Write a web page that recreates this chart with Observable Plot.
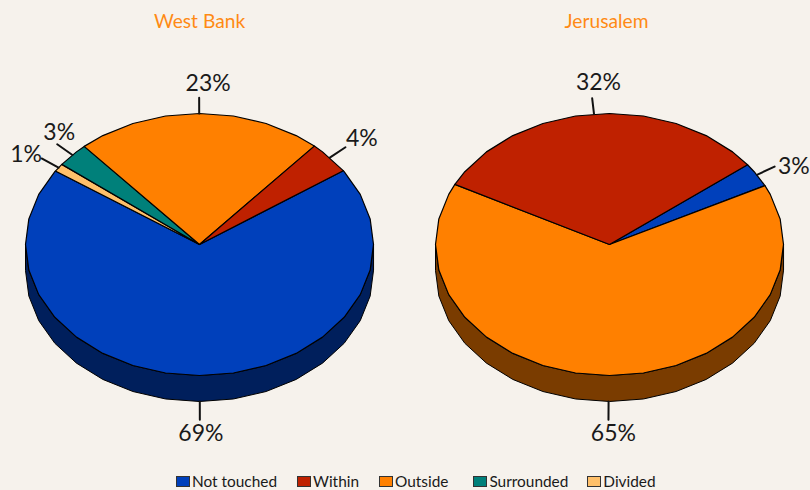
<!DOCTYPE html>
<html>
<head>
<meta charset="utf-8">
<script src="https://cdn.jsdelivr.net/npm/d3@7"></script>
<script src="https://cdn.jsdelivr.net/npm/@observablehq/plot@0.6"></script>
<style>
html,body{margin:0;padding:0;background:#f6f2ec;overflow:hidden;width:810px;height:490px}
#legend{position:absolute;left:176px;top:472px;height:18px;overflow:hidden;display:flex;gap:20px;font:15.4px/22px Lato,sans-serif;color:#1a1a1a;white-space:nowrap}
#legend span.i{display:flex;align-items:center;gap:2px}
#legend span.i:nth-child(4){margin-left:5px}
#legend span.i:nth-child(5){margin-left:-1px}
#legend i{display:inline-block;width:12px;height:9px;border:1.2px solid #333;margin-top:1px}
</style>
</head>
<body>
<div id="chart"></div>
<div id="legend"></div>
<script>
const categories = ["Not touched", "Within", "Outside", "Surrounded", "Divided"];
const westValues = [69, 4, 23, 3, 1];
const jerusalemValues = [3, 32, 65, 0, 0];
const pieTitles = ["West Bank", "Jerusalem"];
const topColors = ["#0040bb", "#bf2100", "#ff8000", "#00807a", "#ffc06a"];
const sideColors = ["#001f5c", "#6e1300", "#7a3c00", "#004744", "#8f6a3a"];
const clockwiseOrder = ["Not touched", "Divided", "Surrounded", "Outside", "Within"];
const startAngles = [55.7, 52.5];

const W = 810, H = 470;
const unitX = 174, unitY = 131;          // pixels per unit of pie radius
const cx0 = 199, cy0 = 244;              // centre of first pie, px
const pieGap = 410 / unitX;              // distance between pies, data units
const depth = 26 / unitY;                // rim depth, data units
const facet = 11.25;                     // the rim is a 32-gon

const rad = a => a * Math.PI / 180;
const pt = (c, a, r = 1, dy = 0) => ({x: c + r * Math.sin(rad(a)), y: r * Math.cos(rad(a)) - dy});
function arcAngles(a0, a1) {
  const out = [a0];
  for (let k = Math.floor(a0 / facet) + 1; k * facet < a1; k++) out.push(k * facet);
  out.push(a1);
  return out;
}

const tops = [], sides = [], leaders = [], labels = [];
// per-label text nudges, pixels
const nudges = {"West Bank|Not touched": [1, -1], "West Bank|Within": [2, 1], "West Bank|Outside": [9, 0], "West Bank|Surrounded": [16, -2], "West Bank|Divided": [0, 5],
                "Jerusalem|Not touched": [3, 8], "Jerusalem|Within": [8, -1], "Jerusalem|Outside": [5, -1]};

[westValues, jerusalemValues].forEach((vals, p) => {
  const c = p * pieGap, name = pieTitles[p];
  let a = startAngles[p];
  clockwiseOrder.forEach(cat => {
    const i = categories.indexOf(cat), v = vals[i];
    if (!v) return;
    const a1 = a + v * 3.6, key = name + "|" + cat;
    tops.push({key, color: topColors[i], ...pt(c, 0, 0)});
    for (const t of arcAngles(a, a1)) tops.push({key, color: topColors[i], ...pt(c, t)});
    // visible part of the rim: the front half
    for (const off of [0, 360]) {
      const s0 = Math.max(a, 90 + off), s1 = Math.min(a1, 270 + off);
      if (s1 > s0) {
        const arc = arcAngles(s0, s1), k = key + off;
        for (const t of arc) sides.push({key: k, color: sideColors[i], ...pt(c, t)});
        for (const t of arc.slice().reverse()) sides.push({key: k, color: sideColors[i], ...pt(c, t, 1, depth)});
      }
    }
    const mid = (a + a1) / 2;
    const front = Math.cos(rad(mid)) < 0;
    const d = front ? depth : 0;
    const [nx, ny] = nudges[key] || [0, 0];
    leaders.push({key, ...pt(c, mid, 1, d)}, {key, ...pt(c, mid, front ? 1.14 : 1.12, d)});
    labels.push({text: v + "%", ...pt(c, mid, front ? 1.25 : 1.23, d), nx, ny});
    a = a1;
  });
});

const titleNudge = [0, -3];
const titles = pieTitles.map((t, p) => ({t, x: p * pieGap + titleNudge[p] / unitX, y: 1.70}));
const font = 'Lato, sans-serif';

const plot = Plot.plot({
  width: W, height: H, margin: 0,
  style: {background: "transparent"},
  x: {domain: [-cx0 / unitX, (W - cx0) / unitX], range: [0, W], axis: null},
  y: {domain: [(cy0 - H) / unitY, cy0 / unitY], range: [H, 0], axis: null},
  color: {type: "identity"},
  marks: [
    Plot.line(sides, {x: "x", y: "y", z: "key", fill: "color", stroke: "#000", strokeWidth: 1, curve: "linear-closed"}),
    Plot.line(tops, {x: "x", y: "y", z: "key", fill: "color", stroke: "#000", strokeWidth: 1.2, curve: "linear-closed"}),
    Plot.line(leaders, {x: "x", y: "y", z: "key", stroke: "#111", strokeWidth: 2}),
    ...labels.map(l => Plot.text([l], {x: "x", y: "y", text: "text", dx: l.nx, dy: l.ny, fontSize: 23, fontFamily: font, fill: "#1a1a1a", textAnchor: "middle"})),
    Plot.text(titles, {x: "x", y: "y", text: "t", fontSize: 19.2, fontFamily: font, fill: "#ff8a14", textAnchor: "middle"})
  ]
});
document.getElementById("chart").append(plot);

const legend = document.getElementById("legend");
categories.forEach((c, i) => {
  const s = document.createElement("span"); s.className = "i";
  const sw = document.createElement("i"); sw.style.background = topColors[i];
  s.append(sw, document.createTextNode(c));
  legend.append(s);
});
</script>
</body>
</html>
